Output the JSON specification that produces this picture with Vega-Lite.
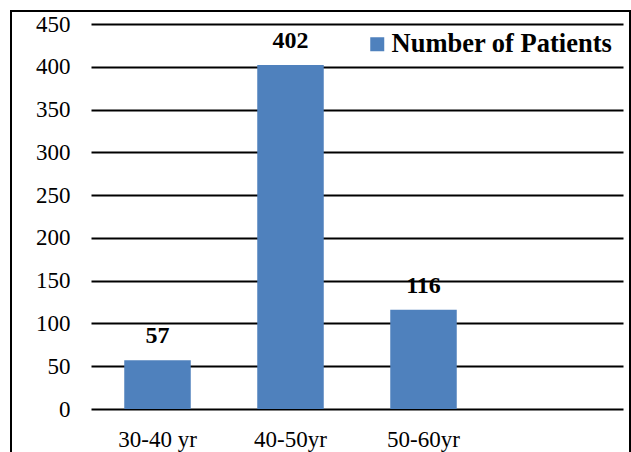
{
  "$schema": "https://vega.github.io/schema/vega-lite/v6.json",
  "width": 619,
  "height": 445,
  "autosize": "none",
  "padding": {"left": 11, "top": 11, "right": 2, "bottom": 0},
  "background": "white",
  "data": {
    "values": [
      {"age": "30-40 yr", "patients": 57},
      {"age": "40-50yr", "patients": 402},
      {"age": "50-60yr", "patients": 116}
    ]
  },
  "encoding": {
    "x": {
      "field": "age",
      "type": "nominal",
      "sort": null,
      "scale": {
        "domain": ["30-40 yr", "40-50yr", "50-60yr", " "],
        "range": [80, 612],
        "paddingInner": 0.5,
        "paddingOuter": 0.25
      },
      "axis": {
        "title": null,
        "orient": "bottom",
        "offset": -47,
        "domain": false,
        "ticks": false,
        "tickSize": 0,
        "labelPadding": 19,
        "labelAngle": 0,
        "labelFont": "Liberation Serif",
        "labelFontSize": 23,
        "labelColor": "#000000",
        "grid": false
      }
    },
    "y": {
      "field": "patients",
      "type": "quantitative",
      "scale": {"domain": [0, 450], "range": [398, 13], "nice": false, "zero": true},
      "axis": {
        "title": null,
        "values": [0, 50, 100, 150, 200, 250, 300, 350, 400, 450],
        "offset": -69,
        "domain": false,
        "ticks": false,
        "tickSize": 0,
        "labelPadding": 10,
        "labelFont": "Liberation Serif",
        "labelFontSize": 23,
        "labelColor": "#000000",
        "grid": true,
        "gridColor": "#000000",
        "gridWidth": 1.8,
        "gridOpacity": 1
      }
    }
  },
  "layer": [
    {
      "mark": {"type": "bar"},
      "encoding": {
        "color": {
          "datum": "Number of Patients",
          "type": "nominal",
          "scale": {"range": ["#4F81BD"]},
          "legend": {
            "title": null,
            "orient": "none",
            "legendX": 353,
            "legendY": 20,
            "symbolType": "square",
            "symbolSize": 196,
            "symbolStrokeWidth": 0,
            "labelOffset": 1,
            "labelLimit": 500,
            "labelFont": "Liberation Serif",
            "labelFontSize": 26.5,
            "labelFontWeight": "bold",
            "labelColor": "#000000",
            "padding": 0
          }
        }
      }
    },
    {
      "mark": {
        "type": "text",
        "baseline": "alphabetic",
        "dy": -17,
        "font": "Liberation Serif",
        "fontSize": 24,
        "fontWeight": "bold",
        "color": "#000000"
      },
      "encoding": {
        "text": {"field": "patients", "type": "quantitative"}
      }
    }
  ],
  "config": {
    "view": {"stroke": "#000000", "strokeWidth": 2}
  }
}
